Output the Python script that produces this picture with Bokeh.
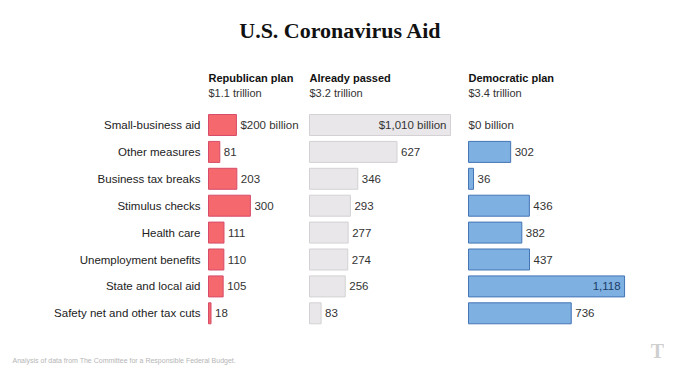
from bokeh.plotting import figure
from bokeh.models import ColumnDataSource, Range1d
from bokeh.core.properties import value
from bokeh.embed import file_html
from bokeh.resources import INLINE

# ---------------- data ----------------
categories = ["Small-business aid", "Other measures", "Business tax breaks", "Stimulus checks",
              "Health care", "Unemployment benefits", "State and local aid",
              "Safety net and other tax cuts"]
republican = [200, 81, 203, 300, 111, 110, 105, 18]
passed = [1010, 627, 346, 293, 277, 274, 256, 83]
democratic = [0, 302, 36, 436, 382, 437, 1118, 736]
panel_titles = ["Republican plan", "Already passed", "Democratic plan"]
panel_totals = ["$1.1 trillion", "$3.2 trillion", "$3.4 trillion"]
title_text = "U.S. Coronavirus Aid"
source_text = "Analysis of data from The Committee for a Responsible Federal Budget."

# ---------------- layout ----------------
W, H = 664, 367
PX = 0.1396          # pixels per billion
ROW = 26.9           # pixels per row
X0 = -208 / PX       # data value at the frame's left edge
Y0 = -124.5 / ROW    # row value at the frame's top edge


def X(img_x):
    return X0 + img_x / PX


def Y(img_y):
    return Y0 + img_y / ROW


offsets = [X(208), X(309), X(468)]
fills = ["#f4686e", "#e9e7ea", "#7eb0e2"]
lines = ["#d64c69", "#d3d1d4", "#4475b5"]
inside_colors = ["#333333", "#333333", "#1d3d66"]
series = [republican, passed, democratic]

p = figure(width=W, height=H, x_range=Range1d(X0, X0 + W / PX),
           y_range=Range1d(Y0 + H / ROW, Y0), output_backend="svg",
           toolbar_location=None, min_border=0, x_axis_type=None, y_axis_type=None,
           outline_line_color=None, background_fill_color="white",
           border_fill_color="white")
p.grid.visible = False

rows = list(range(len(categories)))
SANS = value("Liberation Sans")

# category labels
p.text(x=[offsets[0]] * len(rows), y=rows, text=categories, x_offset=-8,
       text_align="right", text_baseline="middle", text_font=SANS,
       text_font_size="11.5px", text_color="#222222")

for k, vals in enumerate(series):
    off = offsets[k]
    bar_rows = [r for r, v in zip(rows, vals) if v > 0]
    bar_vals = [v for v in vals if v > 0]
    src = ColumnDataSource(dict(y=bar_rows, left=[off] * len(bar_vals),
                                right=[off + v for v in bar_vals]))
    p.hbar(y="y", left="left", right="right", height=0.78, source=src,
           fill_color=fills[k], line_color=lines[k], line_width=1)

    labels, xs, aligns, xoffs, colors = [], [], [], [], []
    for r, v in zip(rows, vals):
        txt = f"{v:,}"
        if r == 0:
            txt = f"${v:,} billion"
        inside = v > 900
        labels.append(txt)
        xs.append(off + v)
        aligns.append("right" if inside else "left")
        xoffs.append(-4 if inside else (4 if v > 0 else 0))
        colors.append(inside_colors[k] if inside else "#333333")
    lsrc = ColumnDataSource(dict(x=xs, y=rows, text=labels, align=aligns,
                                 xo=xoffs, color=colors))
    p.text(x="x", y="y", text="text", x_offset="xo", text_align="align",
           text_color="color", text_baseline="middle", text_font=SANS,
           text_font_size="11.5px", source=lsrc)

    # headers
    p.text(x=[off], y=[Y(77.5)], text=[panel_titles[k]], text_align="left",
           text_baseline="middle", text_font=SANS, text_font_style="bold",
           text_font_size="11px", text_color="#111111")
    p.text(x=[off], y=[Y(92)], text=[panel_totals[k]], text_align="left",
           text_baseline="middle", text_font=SANS, text_font_size="11px",
           text_color="#333333")

# title
p.text(x=[X(340)], y=[Y(30)], text=[title_text], text_align="center",
       text_baseline="middle", text_font=value("Liberation Serif"),
       text_font_style="bold", text_font_size="22px", text_color="#111111")

# source note
p.text(x=[X(12)], y=[Y(360)], text=[source_text], text_align="left",
       text_baseline="middle", text_font=SANS, text_font_size="7px",
       text_color="#b5b5b5")

# logo stand-in
p.text(x=[X(657)], y=[Y(350)], text=["T"], text_align="center",
       text_baseline="middle", text_font=value("Liberation Serif"),
       text_font_style="bold", text_font_size="20px", text_color="#cfcfcf")

open("out.html", "w").write(file_html(p, INLINE))
